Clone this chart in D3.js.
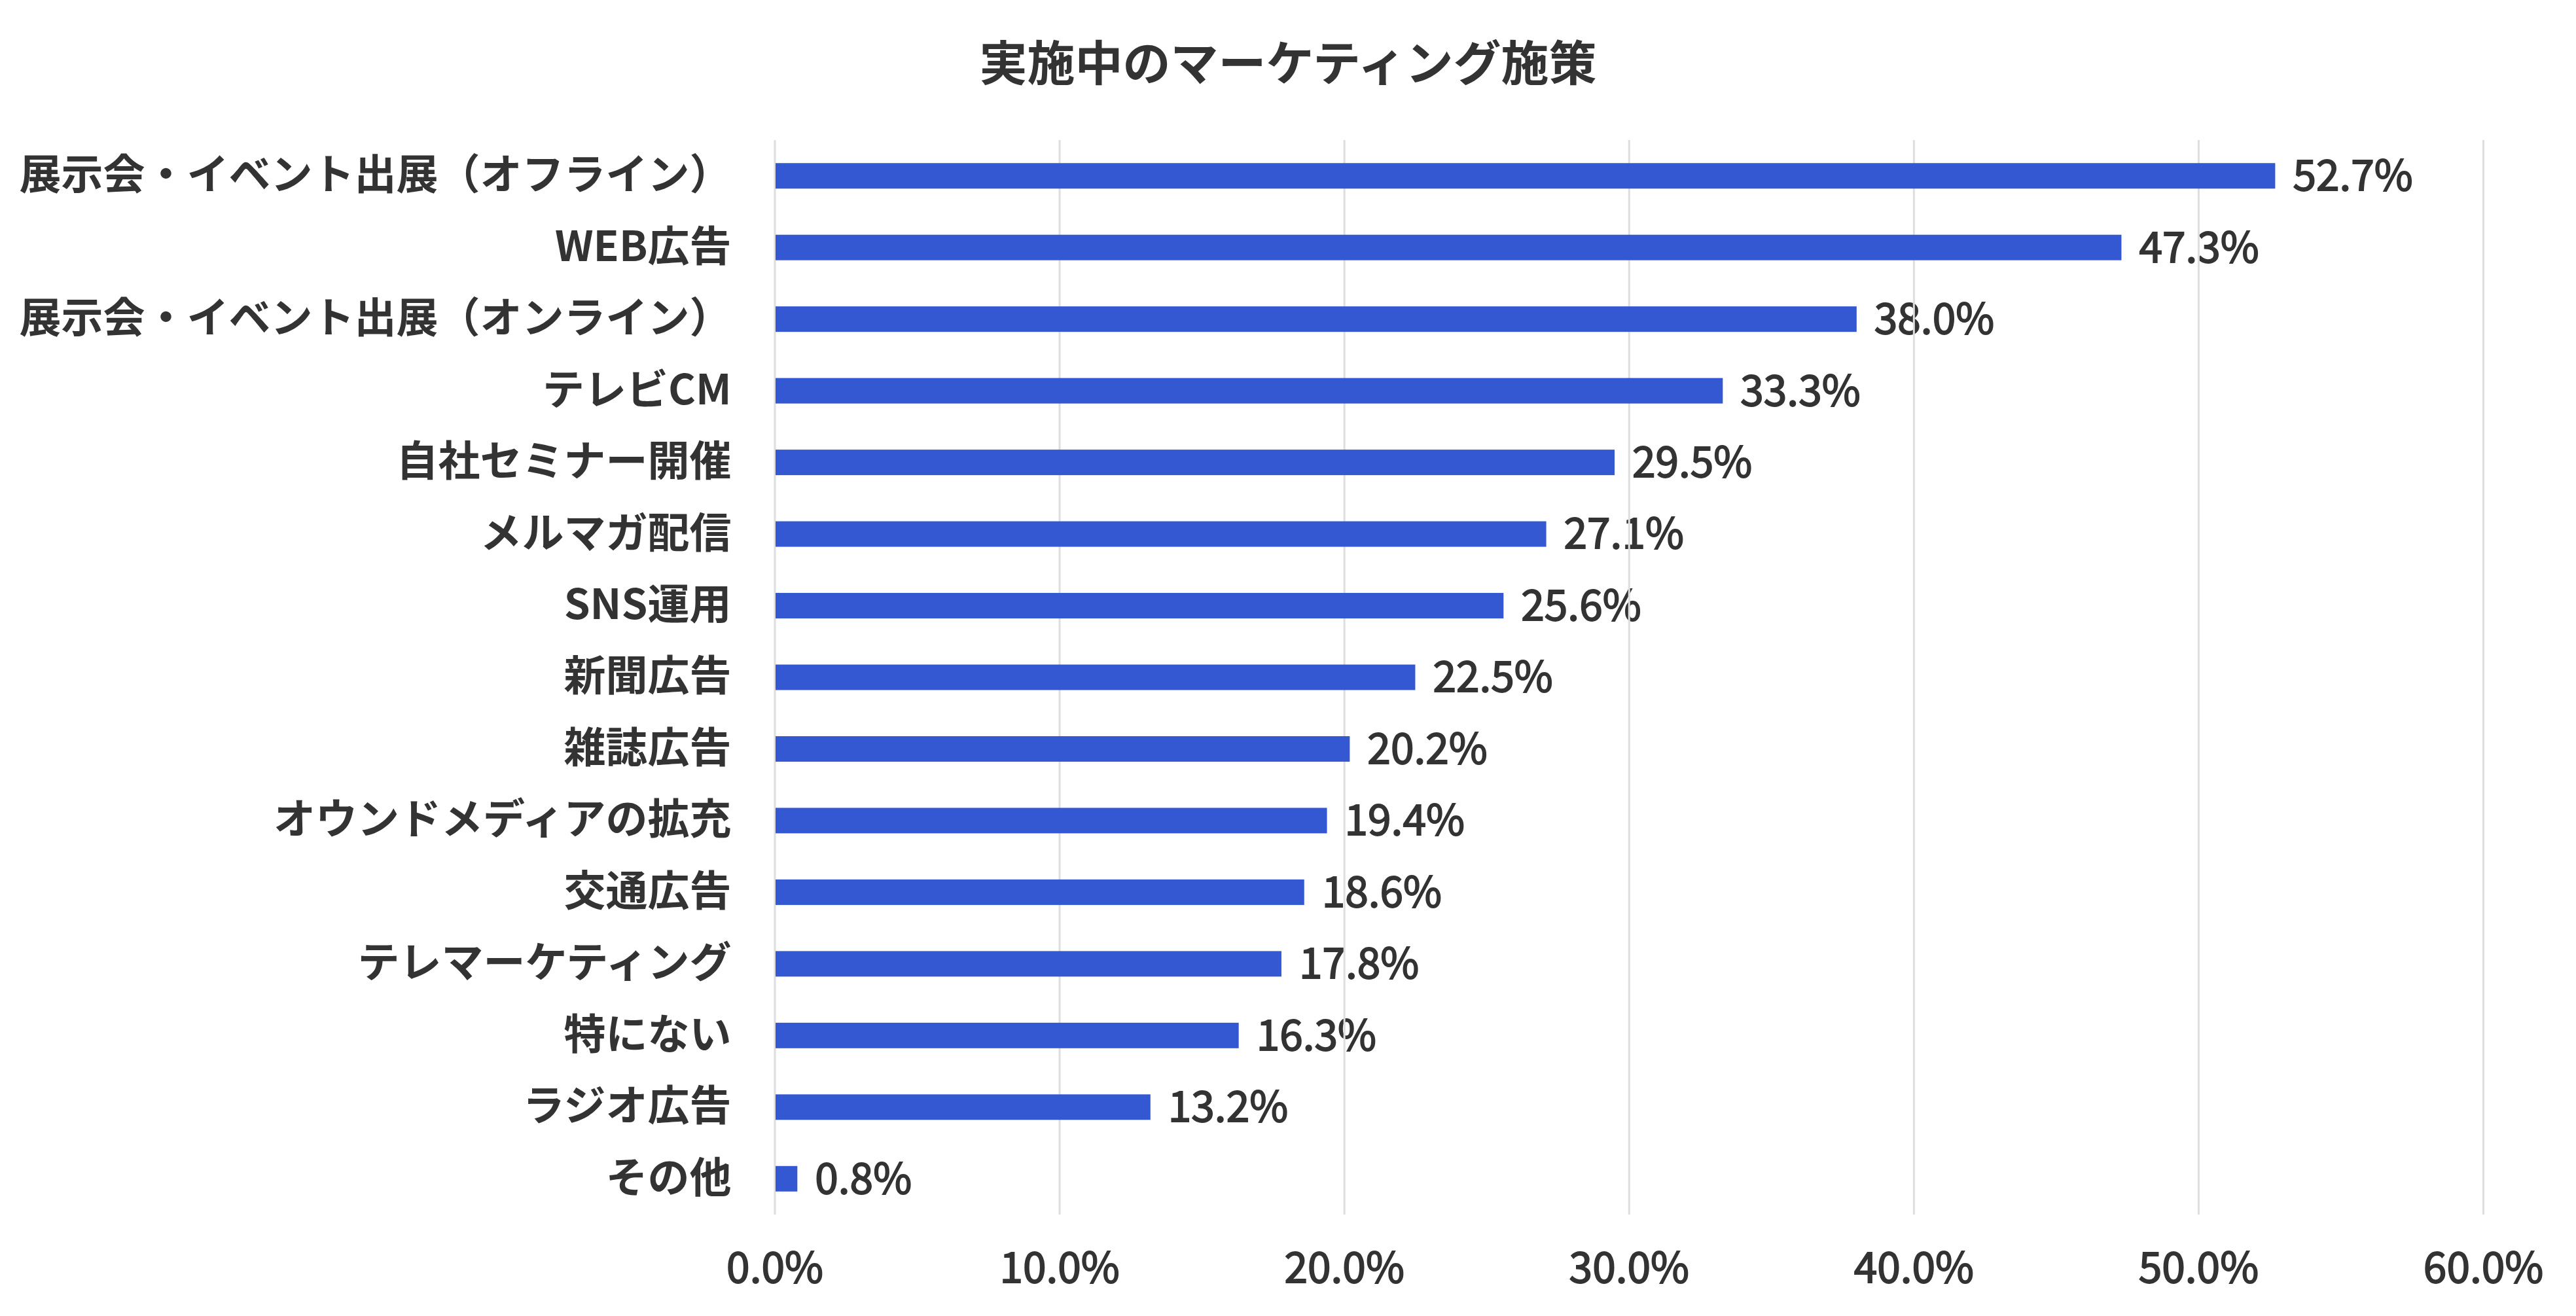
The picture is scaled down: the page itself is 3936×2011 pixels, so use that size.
<!DOCTYPE html>
<html>
<head>
<meta charset="utf-8">
<script src="https://cdn.jsdelivr.net/npm/d3@7"></script>
<style>
    body { margin: 0; background: #fff; }
    svg text { font-family: "Noto Sans CJK JP", "Noto Sans", sans-serif; fill: #333; }
    /* 中太の見た目に寄せるため細い線を重ねる */
    .medium { stroke: #333; stroke-width: 1.8px; }
</style>
</head>
<body>
<svg width="3936" height="2011"></svg>
<script>
// データ
var categories = [
    "展示会・イベント出展（オフライン）",
    "WEB広告",
    "展示会・イベント出展（オンライン）",
    "テレビCM",
    "自社セミナー開催",
    "メルマガ配信",
    "SNS運用",
    "新聞広告",
    "雑誌広告",
    "オウンドメディアの拡充",
    "交通広告",
    "テレマーケティング",
    "特にない",
    "ラジオ広告",
    "その他"
];
var values = [52.7, 47.3, 38.0, 33.3, 29.5, 27.1, 25.6, 22.5, 20.2, 19.4, 18.6, 17.8, 16.3, 13.2, 0.8];
var xTicks = [0, 10, 20, 30, 40, 50, 60];
var title = "実施中のマーケティング施策";

var data = categories.map(function (c, i) {
    return { name: c, value: values[i] };
});

var svg = d3.select("svg"),
    margin = { top: 214, right: 142, bottom: 155, left: 1183.5 },
    width = +svg.attr("width") - margin.left - margin.right,
    height = +svg.attr("height") - margin.top - margin.bottom;

var x = d3.scaleLinear().domain([0, 60]).range([0, width]),
    y = d3.scaleBand().domain(categories).range([0, height]).paddingInner(0.644).paddingOuter(0.322);

var g = svg.append("g")
    .attr("transform", "translate(" + margin.left + "," + margin.top + ")");

// タイトル
svg.append("text")
    .attr("x", 1968)
    .attr("y", 123)
    .attr("text-anchor", "middle")
    .style("font-size", "73px")
    .style("font-weight", "700")
    .text(title);

// 値ラベル（元の図ではグリッド線が上に重なっている）
g.selectAll(".label")
    .data(data)
    .enter().append("text")
    .attr("class", "label medium")
    .attr("x", function (d) { return x(d.value) + 27; })
    .attr("y", function (d) { return y(d.name) + y.bandwidth() / 2; })
    .attr("dy", "0.35em")
    .style("font-size", "64px")
    .text(function (d) { return d.value.toFixed(1) + "%"; });

// グリッド線
g.append("g")
    .attr("class", "grid")
    .call(d3.axisBottom(x).tickValues(xTicks).tickSize(height).tickFormat(""))
    .call(function (s) { s.select(".domain").remove(); })
    .selectAll("line")
    .attr("stroke", "#dedede")
    .attr("stroke-width", 3);

// x軸ラベル
g.append("g")
    .attr("class", "axis axis--x")
    .attr("transform", "translate(0," + height + ")")
    .call(d3.axisBottom(x).tickValues(xTicks).tickSize(0).tickPadding(0)
        .tickFormat(function (d) { return d.toFixed(1) + "%"; }))
    .call(function (s) { s.select(".domain").remove(); })
    .selectAll("text")
    .attr("class", "medium")
    .attr("dy", null)
    .attr("y", 104)
    .style("font-size", "64px");

// y軸ラベル
g.append("g")
    .attr("class", "axis axis--y")
    .call(d3.axisLeft(y).tickSize(0).tickPadding(66))
    .call(function (s) { s.select(".domain").remove(); })
    .selectAll("text")
    .attr("dy", "0.32em")
    .style("font-size", "64px")
    .style("font-weight", "700");

// バー
g.selectAll(".bar")
    .data(data)
    .enter().append("rect")
    .attr("class", "bar")
    .attr("x", x(0) + 1.5)
    .attr("y", function (d) { return y(d.name); })
    .attr("width", function (d) { return x(d.value) - x(0) - 1.5; })
    .attr("height", y.bandwidth())
    .attr("fill", "#3457d2");
</script>
</body>
</html>
